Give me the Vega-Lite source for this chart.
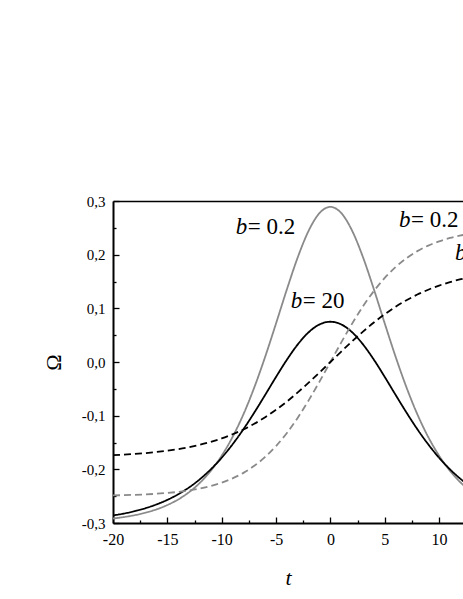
{
  "$schema": "https://vega.github.io/schema/vega-lite/v6.json",
  "width": 350,
  "height": 322,
  "autosize": "none",
  "padding": {"left": 113, "top": 201, "right": 0, "bottom": 76},
  "background": "white",
  "config": {"view": {"stroke": null}, "font": "Liberation Serif"},
  "datasets": {
    "curves": [
      {"t": -20, "w": -0.2916, "b": "0.2", "k": "solid"}, {"t": -19, "w": -0.2889, "b": "0.2", "k": "solid"}, {"t": -18, "w": -0.2854, "b": "0.2", "k": "solid"}, {"t": -17, "w": -0.2807, "b": "0.2", "k": "solid"}, {"t": -16, "w": -0.2746, "b": "0.2", "k": "solid"}, {"t": -15, "w": -0.2665, "b": "0.2", "k": "solid"}, {"t": -14, "w": -0.2561, "b": "0.2", "k": "solid"}, {"t": -13, "w": -0.2425, "b": "0.2", "k": "solid"}, {"t": -12, "w": -0.2250, "b": "0.2", "k": "solid"}, {"t": -11, "w": -0.2027, "b": "0.2", "k": "solid"}, {"t": -10, "w": -0.1746, "b": "0.2", "k": "solid"}, {"t": -9, "w": -0.1397, "b": "0.2", "k": "solid"}, {"t": -8, "w": -0.0974, "b": "0.2", "k": "solid"}, {"t": -7, "w": -0.0473, "b": "0.2", "k": "solid"}, {"t": -6, "w": 0.0098, "b": "0.2", "k": "solid"}, {"t": -5, "w": 0.0719, "b": "0.2", "k": "solid"}, {"t": -4, "w": 0.1355, "b": "0.2", "k": "solid"}, {"t": -3, "w": 0.1952, "b": "0.2", "k": "solid"}, {"t": -2, "w": 0.2446, "b": "0.2", "k": "solid"}, {"t": -1, "w": 0.2775, "b": "0.2", "k": "solid"}, {"t": 0, "w": 0.289, "b": "0.2", "k": "solid"}, {"t": 1, "w": 0.2775, "b": "0.2", "k": "solid"}, {"t": 2, "w": 0.2446, "b": "0.2", "k": "solid"}, {"t": 3, "w": 0.1952, "b": "0.2", "k": "solid"}, {"t": 4, "w": 0.1355, "b": "0.2", "k": "solid"}, {"t": 5, "w": 0.0719, "b": "0.2", "k": "solid"}, {"t": 6, "w": 0.0098, "b": "0.2", "k": "solid"}, {"t": 7, "w": -0.0473, "b": "0.2", "k": "solid"}, {"t": 8, "w": -0.0974, "b": "0.2", "k": "solid"}, {"t": 9, "w": -0.1397, "b": "0.2", "k": "solid"}, {"t": 10, "w": -0.1746, "b": "0.2", "k": "solid"}, {"t": 11, "w": -0.2027, "b": "0.2", "k": "solid"}, {"t": 12, "w": -0.2250, "b": "0.2", "k": "solid"}, {"t": 13, "w": -0.2425, "b": "0.2", "k": "solid"}, {"t": 14, "w": -0.2561, "b": "0.2", "k": "solid"}, {"t": 15, "w": -0.2665, "b": "0.2", "k": "solid"}, {"t": 16, "w": -0.2746, "b": "0.2", "k": "solid"}, {"t": 17, "w": -0.2807, "b": "0.2", "k": "solid"}, {"t": 18, "w": -0.2854, "b": "0.2", "k": "solid"}, {"t": 19, "w": -0.2889, "b": "0.2", "k": "solid"}, {"t": 20, "w": -0.2916, "b": "0.2", "k": "solid"},
      {"t": -20, "w": -0.2859, "b": "20", "k": "solid"}, {"t": -19, "w": -0.2824, "b": "20", "k": "solid"}, {"t": -18, "w": -0.2779, "b": "20", "k": "solid"}, {"t": -17, "w": -0.2723, "b": "20", "k": "solid"}, {"t": -16, "w": -0.2654, "b": "20", "k": "solid"}, {"t": -15, "w": -0.2569, "b": "20", "k": "solid"}, {"t": -14, "w": -0.2464, "b": "20", "k": "solid"}, {"t": -13, "w": -0.2337, "b": "20", "k": "solid"}, {"t": -12, "w": -0.2183, "b": "20", "k": "solid"}, {"t": -11, "w": -0.1999, "b": "20", "k": "solid"}, {"t": -10, "w": -0.1784, "b": "20", "k": "solid"}, {"t": -9, "w": -0.1534, "b": "20", "k": "solid"}, {"t": -8, "w": -0.1252, "b": "20", "k": "solid"}, {"t": -7, "w": -0.0942, "b": "20", "k": "solid"}, {"t": -6, "w": -0.0613, "b": "20", "k": "solid"}, {"t": -5, "w": -0.0278, "b": "20", "k": "solid"}, {"t": -4, "w": 0.0043, "b": "20", "k": "solid"}, {"t": -3, "w": 0.0328, "b": "20", "k": "solid"}, {"t": -2, "w": 0.0554, "b": "20", "k": "solid"}, {"t": -1, "w": 0.0700, "b": "20", "k": "solid"}, {"t": 0, "w": 0.075, "b": "20", "k": "solid"}, {"t": 1, "w": 0.0700, "b": "20", "k": "solid"}, {"t": 2, "w": 0.0554, "b": "20", "k": "solid"}, {"t": 3, "w": 0.0328, "b": "20", "k": "solid"}, {"t": 4, "w": 0.0043, "b": "20", "k": "solid"}, {"t": 5, "w": -0.0278, "b": "20", "k": "solid"}, {"t": 6, "w": -0.0613, "b": "20", "k": "solid"}, {"t": 7, "w": -0.0942, "b": "20", "k": "solid"}, {"t": 8, "w": -0.1252, "b": "20", "k": "solid"}, {"t": 9, "w": -0.1534, "b": "20", "k": "solid"}, {"t": 10, "w": -0.1784, "b": "20", "k": "solid"}, {"t": 11, "w": -0.1999, "b": "20", "k": "solid"}, {"t": 12, "w": -0.2183, "b": "20", "k": "solid"}, {"t": 13, "w": -0.2337, "b": "20", "k": "solid"}, {"t": 14, "w": -0.2464, "b": "20", "k": "solid"}, {"t": 15, "w": -0.2569, "b": "20", "k": "solid"}, {"t": 16, "w": -0.2654, "b": "20", "k": "solid"}, {"t": 17, "w": -0.2723, "b": "20", "k": "solid"}, {"t": 18, "w": -0.2779, "b": "20", "k": "solid"}, {"t": 19, "w": -0.2824, "b": "20", "k": "solid"}, {"t": 20, "w": -0.2859, "b": "20", "k": "solid"},
      {"t": -20, "w": -0.2486, "b": "0.2", "k": "dashed"}, {"t": -19, "w": -0.2481, "b": "0.2", "k": "dashed"}, {"t": -18, "w": -0.2475, "b": "0.2", "k": "dashed"}, {"t": -17, "w": -0.2467, "b": "0.2", "k": "dashed"}, {"t": -16, "w": -0.2455, "b": "0.2", "k": "dashed"}, {"t": -15, "w": -0.2440, "b": "0.2", "k": "dashed"}, {"t": -14, "w": -0.2420, "b": "0.2", "k": "dashed"}, {"t": -13, "w": -0.2393, "b": "0.2", "k": "dashed"}, {"t": -12, "w": -0.2358, "b": "0.2", "k": "dashed"}, {"t": -11, "w": -0.2311, "b": "0.2", "k": "dashed"}, {"t": -10, "w": -0.2249, "b": "0.2", "k": "dashed"}, {"t": -9, "w": -0.2169, "b": "0.2", "k": "dashed"}, {"t": -8, "w": -0.2066, "b": "0.2", "k": "dashed"}, {"t": -7, "w": -0.1934, "b": "0.2", "k": "dashed"}, {"t": -6, "w": -0.1769, "b": "0.2", "k": "dashed"}, {"t": -5, "w": -0.1566, "b": "0.2", "k": "dashed"}, {"t": -4, "w": -0.1322, "b": "0.2", "k": "dashed"}, {"t": -3, "w": -0.1037, "b": "0.2", "k": "dashed"}, {"t": -2, "w": -0.0715, "b": "0.2", "k": "dashed"}, {"t": -1, "w": -0.0365, "b": "0.2", "k": "dashed"}, {"t": 0, "w": 0.0, "b": "0.2", "k": "dashed"}, {"t": 1, "w": 0.0365, "b": "0.2", "k": "dashed"}, {"t": 2, "w": 0.0715, "b": "0.2", "k": "dashed"}, {"t": 3, "w": 0.1037, "b": "0.2", "k": "dashed"}, {"t": 4, "w": 0.1322, "b": "0.2", "k": "dashed"}, {"t": 5, "w": 0.1566, "b": "0.2", "k": "dashed"}, {"t": 6, "w": 0.1769, "b": "0.2", "k": "dashed"}, {"t": 7, "w": 0.1934, "b": "0.2", "k": "dashed"}, {"t": 8, "w": 0.2066, "b": "0.2", "k": "dashed"}, {"t": 9, "w": 0.2169, "b": "0.2", "k": "dashed"}, {"t": 10, "w": 0.2249, "b": "0.2", "k": "dashed"}, {"t": 11, "w": 0.2311, "b": "0.2", "k": "dashed"}, {"t": 12, "w": 0.2358, "b": "0.2", "k": "dashed"}, {"t": 13, "w": 0.2393, "b": "0.2", "k": "dashed"}, {"t": 14, "w": 0.2420, "b": "0.2", "k": "dashed"}, {"t": 15, "w": 0.2440, "b": "0.2", "k": "dashed"}, {"t": 16, "w": 0.2455, "b": "0.2", "k": "dashed"}, {"t": 17, "w": 0.2467, "b": "0.2", "k": "dashed"}, {"t": 18, "w": 0.2475, "b": "0.2", "k": "dashed"}, {"t": 19, "w": 0.2481, "b": "0.2", "k": "dashed"}, {"t": 20, "w": 0.2486, "b": "0.2", "k": "dashed"},
      {"t": -20, "w": -0.1737, "b": "20", "k": "dashed"}, {"t": -19, "w": -0.1726, "b": "20", "k": "dashed"}, {"t": -18, "w": -0.1713, "b": "20", "k": "dashed"}, {"t": -17, "w": -0.1697, "b": "20", "k": "dashed"}, {"t": -16, "w": -0.1677, "b": "20", "k": "dashed"}, {"t": -15, "w": -0.1653, "b": "20", "k": "dashed"}, {"t": -14, "w": -0.1623, "b": "20", "k": "dashed"}, {"t": -13, "w": -0.1587, "b": "20", "k": "dashed"}, {"t": -12, "w": -0.1542, "b": "20", "k": "dashed"}, {"t": -11, "w": -0.1489, "b": "20", "k": "dashed"}, {"t": -10, "w": -0.1424, "b": "20", "k": "dashed"}, {"t": -9, "w": -0.1347, "b": "20", "k": "dashed"}, {"t": -8, "w": -0.1257, "b": "20", "k": "dashed"}, {"t": -7, "w": -0.1151, "b": "20", "k": "dashed"}, {"t": -6, "w": -0.1029, "b": "20", "k": "dashed"}, {"t": -5, "w": -0.0890, "b": "20", "k": "dashed"}, {"t": -4, "w": -0.0736, "b": "20", "k": "dashed"}, {"t": -3, "w": -0.0566, "b": "20", "k": "dashed"}, {"t": -2, "w": -0.0385, "b": "20", "k": "dashed"}, {"t": -1, "w": -0.0195, "b": "20", "k": "dashed"}, {"t": 0, "w": 0.0, "b": "20", "k": "dashed"}, {"t": 1, "w": 0.0195, "b": "20", "k": "dashed"}, {"t": 2, "w": 0.0385, "b": "20", "k": "dashed"}, {"t": 3, "w": 0.0566, "b": "20", "k": "dashed"}, {"t": 4, "w": 0.0736, "b": "20", "k": "dashed"}, {"t": 5, "w": 0.0890, "b": "20", "k": "dashed"}, {"t": 6, "w": 0.1029, "b": "20", "k": "dashed"}, {"t": 7, "w": 0.1151, "b": "20", "k": "dashed"}, {"t": 8, "w": 0.1257, "b": "20", "k": "dashed"}, {"t": 9, "w": 0.1347, "b": "20", "k": "dashed"}, {"t": 10, "w": 0.1424, "b": "20", "k": "dashed"}, {"t": 11, "w": 0.1489, "b": "20", "k": "dashed"}, {"t": 12, "w": 0.1542, "b": "20", "k": "dashed"}, {"t": 13, "w": 0.1587, "b": "20", "k": "dashed"}, {"t": 14, "w": 0.1623, "b": "20", "k": "dashed"}, {"t": 15, "w": 0.1653, "b": "20", "k": "dashed"}, {"t": 16, "w": 0.1677, "b": "20", "k": "dashed"}, {"t": 17, "w": 0.1697, "b": "20", "k": "dashed"}, {"t": 18, "w": 0.1713, "b": "20", "k": "dashed"}, {"t": 19, "w": 0.1726, "b": "20", "k": "dashed"}, {"t": 20, "w": 0.1737, "b": "20", "k": "dashed"}
    ],
    "labels": [
      {"t": -8.7, "w": 0.238, "rest": "= 0.2"},
      {"t": -3.64, "w": 0.100, "rest": "= 20"},
      {"t": 6.32, "w": 0.252, "rest": "= 0.2"},
      {"t": 11.47, "w": 0.19, "rest": "= 20"}
    ]
  },
  "layer": [
    {
      "data": {"name": "curves"},
      "mark": {"type": "line", "clip": true, "interpolate": "monotone", "strokeWidth": 1.8},
      "encoding": {
        "x": {
          "field": "t", "type": "quantitative",
          "scale": {"domain": [-20, 12.2], "nice": false, "zero": false},
          "axis": {
            "orient": "bottom",
            "values": [-20, -15, -10, -5, 0, 5, 10],
            "labelExpr": "replace(format(datum.value, 'd'), '\u2212', '-')",
            "tickSize": -6,
            "tickColor": "black", "tickWidth": 1.3,
            "domainColor": "black", "domainWidth": 2,
            "labelFont": "Liberation Serif", "labelFontSize": 16, "labelColor": "black",
            "labelPadding": 14, "labelFlush": false, "labelOverlap": false,
            "grid": false,
            "title": "t", "titleFont": "Liberation Serif", "titleFontStyle": "italic",
            "titleFontWeight": "normal", "titleFontSize": 22, "titleColor": "black", "titlePadding": 20
          }
        },
        "y": {
          "field": "w", "type": "quantitative",
          "scale": {"domain": [-0.3, 0.3], "nice": false, "zero": false},
          "axis": {
            "orient": "left",
            "values": [-0.3, -0.2, -0.1, 0, 0.1, 0.2, 0.3],
            "labelExpr": "replace(replace(format(datum.value, '.1f'), '.', ','), '\u2212', '-')",
            "tickSize": -6,
            "tickColor": "black", "tickWidth": 1.3,
            "domainColor": "black", "domainWidth": 2,
            "labelFont": "Liberation Serif", "labelFontSize": 15, "labelColor": "black",
            "labelPadding": 14, "labelFlush": false, "labelOverlap": false,
            "grid": false,
            "title": "Ω", "titleFont": "Liberation Serif", "titleFontWeight": "normal",
            "titleFontSize": 22, "titleColor": "black", "titlePadding": 16
          }
        },
        "color": {"field": "b", "type": "nominal", "scale": {"domain": ["0.2", "20"], "range": ["#8a8a8a", "#000000"]}, "legend": null},
        "strokeDash": {"field": "k", "type": "nominal", "scale": {"domain": ["solid", "dashed"], "range": [[1, 0], [7, 4]]}, "legend": null}
      }
    },
    {
      "data": {"name": "labels"},
      "mark": {"type": "text", "font": "Liberation Serif", "fontStyle": "italic", "fontSize": 23, "align": "left", "baseline": "alphabetic", "color": "black"},
      "encoding": {
        "x": {"field": "t", "type": "quantitative", "axis": {"orient": "top", "ticks": false, "labels": false, "domain": true, "domainColor": "black", "domainWidth": 1.5, "grid": false, "title": null}},
        "y": {"field": "w", "type": "quantitative", "axis": {"orient": "left", "values": [-0.25, -0.15, -0.05, 0.05, 0.15, 0.25], "labels": false, "domain": false, "grid": false, "title": null, "tickSize": -3, "tickColor": "black", "tickWidth": 1.3}},
        "text": {"value": "b"}
      }
    },
    {
      "data": {"name": "labels"},
      "mark": {"type": "text", "font": "Liberation Serif", "fontSize": 23, "align": "left", "baseline": "alphabetic", "dx": 12, "color": "black"},
      "encoding": {
        "x": {"field": "t", "type": "quantitative", "axis": {"orient": "bottom", "values": [-17.5, -12.5, -7.5, -2.5, 2.5, 7.5], "labels": false, "domain": false, "grid": false, "title": null, "tickSize": -3, "tickColor": "black", "tickWidth": 1.3}},
        "y": {"field": "w", "type": "quantitative", "axis": null},
        "text": {"field": "rest"}
      }
    }
  ],
  "resolve": {"axis": {"x": "independent", "y": "independent"}}
}
